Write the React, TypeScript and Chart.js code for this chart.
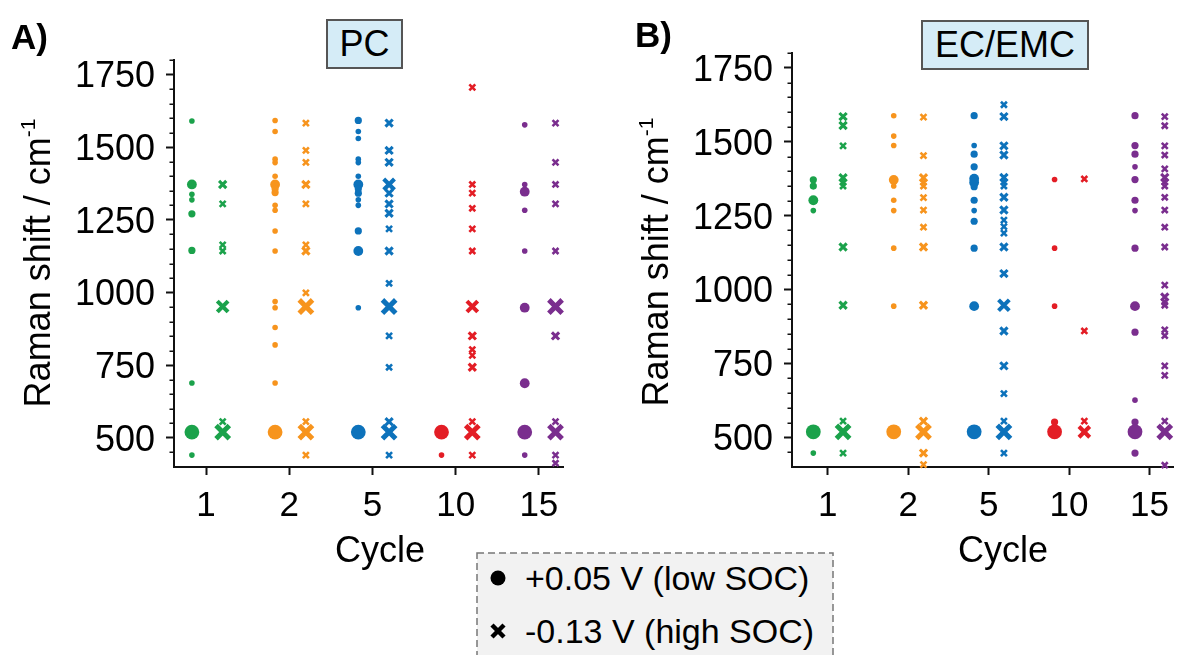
import { useEffect, useRef } from 'react';
import { Chart, registerables } from 'chart.js';

Chart.register(...registerables);

const FONT = '"Liberation Sans", Arial, Helvetica, sans-serif';

// Cycle categories and their colours
const cycles = ['1', '2', '5', '10', '15'];
const cycleColors = ['#1ba24b', '#f7941d', '#0d72bb', '#e31d25', '#7a2e8e'];

// Major y ticks (Raman shift, cm-1)
const shiftTicks = [500, 750, 1000, 1250, 1500, 1750];

// Peaks per cycle: [Raman shift (cm-1), relative intensity 1..4]
// PC electrolyte, +0.05 V (low SOC)
const pcLow: [number, number][][] = [
  [[1590, 1], [1372, 3], [1338, 1], [1319, 1], [1271, 2], [1145, 2], [689, 1], [520, 4], [441, 1]],
  [[1592, 1], [1554, 1], [1459, 1], [1447, 1], [1400, 1], [1372, 3], [1357, 2], [1344, 2], [1300, 1], [1283, 1], [1212, 1], [1143, 1], [969, 1], [948, 1], [880, 1], [820, 1], [689, 1], [520, 4]],
  [[1592, 2], [1554, 1], [1530, 1], [1459, 1], [1447, 1], [1400, 1], [1372, 3], [1357, 2], [1342, 2], [1319, 1], [1300, 1], [1212, 2], [1143, 3], [948, 1], [520, 4]],
  [[520, 4], [441, 1]],
  [[1577, 1], [1372, 1], [1347, 3], [1283, 1], [1143, 1], [948, 3], [688, 3], [520, 4], [441, 1]],
];

// PC electrolyte, -0.13 V (high SOC)
const pcHigh: [number, number][][] = [
  [[1372, 2], [1305, 1], [1164, 1], [1143, 1], [952, 3], [556, 1], [520, 4]],
  [[1583, 1], [1489, 1], [1448, 1], [1372, 2], [1305, 1], [1164, 1], [1143, 2], [999, 1], [952, 4], [556, 1], [520, 4], [441, 1]],
  [[1583, 2], [1489, 2], [1448, 2], [1372, 3], [1342, 2], [1305, 2], [1273, 2], [1219, 1], [1143, 2], [1032, 1], [952, 4], [851, 1], [743, 1], [556, 2], [520, 4], [441, 1]],
  [[1706, 1], [1372, 1], [1342, 1], [1290, 1], [1219, 1], [1143, 1], [952, 3], [851, 2], [804, 1], [784, 1], [743, 2], [556, 1], [520, 4], [441, 1]],
  [[1583, 1], [1448, 1], [1372, 1], [1305, 1], [1143, 1], [952, 4], [851, 2], [556, 1], [520, 4], [441, 1], [413, 1]],
];

// EC/EMC electrolyte, +0.05 V (low SOC)
const ecLow: [number, number][][] = [
  [[1371, 2], [1350, 2], [1302, 3], [1267, 1], [519, 4], [447, 1]],
  [[1588, 1], [1519, 1], [1487, 1], [1371, 3], [1350, 1], [1302, 1], [1267, 1], [1140, 1], [944, 1], [519, 4]],
  [[1588, 2], [1487, 1], [1458, 2], [1415, 2], [1375, 3], [1362, 3], [1348, 2], [1302, 2], [1267, 1], [1231, 2], [1140, 2], [944, 3], [519, 4]],
  [[1372, 1], [1140, 1], [944, 1], [552, 2], [519, 4]],
  [[1588, 2], [1487, 2], [1458, 2], [1415, 1], [1372, 2], [1302, 2], [1267, 1], [1140, 2], [944, 3], [856, 2], [626, 1], [552, 2], [519, 4], [447, 2]],
];

// EC/EMC electrolyte, -0.13 V (high SOC)
const ecHigh: [number, number][][] = [
  [[1585, 2], [1555, 2], [1486, 1], [1378, 2], [1363, 1], [1350, 1], [1144, 2], [947, 2], [555, 1], [519, 4], [447, 1]],
  [[1583, 1], [1453, 1], [1378, 2], [1363, 1], [1350, 1], [1311, 1], [1269, 1], [1211, 1], [1144, 2], [947, 2], [555, 2], [519, 4], [447, 2], [408, 1]],
  [[1625, 1], [1585, 2], [1486, 2], [1455, 2], [1379, 2], [1364, 1], [1350, 1], [1312, 2], [1269, 2], [1235, 1], [1213, 1], [1191, 1], [1144, 2], [1054, 2], [947, 3], [860, 2], [742, 2], [648, 1], [555, 1], [519, 4], [447, 1]],
  [[1374, 1], [860, 1], [555, 1], [519, 3]],
  [[1585, 1], [1554, 1], [1486, 1], [1455, 1], [1408, 1], [1379, 2], [1364, 1], [1350, 1], [1312, 1], [1269, 1], [1211, 1], [1144, 1], [1015, 1], [975, 2], [958, 1], [947, 1], [864, 1], [844, 1], [742, 1], [710, 1], [555, 1], [519, 4], [406, 1]],
];

// Marker geometry per intensity level (index 1..4)
const circleRadius = [0, 2.8, 3.6, 4.9, 7.4];
const crossRadius = [0, 4.2, 5.1, 7.6, 9.4];
const crossWidth = [0, 2.6, 3.1, 4.1, 5];

const AXIS = '#111';

// Short unlabeled ticks every 50 cm-1 on the shift axis
const minorTicks = {
  id: 'minorTicks',
  afterDraw(chart: any) {
    const y = chart.scales.y;
    const ctx = chart.ctx;
    ctx.save();
    ctx.strokeStyle = AXIS;
    ctx.lineWidth = 1.5;
    for (let v = y.min + 50; v <= y.max; v += 50) {
      if (v % 250 === 0) continue;
      const py = Math.round(y.getPixelForValue(v)) + 0.25;
      ctx.beginPath();
      ctx.moveTo(y.right - 4.5, py);
      ctx.lineTo(y.right, py);
      ctx.stroke();
    }
    ctx.restore();
  },
};

type Panel = {
  low: [number, number][][];
  high: [number, number][][];
  xMin: number;
  xMax: number;
  dxLow: number;
  dxHigh: number;
  axisWidth: number;
  top: number;
  right: number;
};

function makeConfig(p: Panel): any {
  const datasets: any[] = [];
  cycles.forEach((c, i) => {
    datasets.push({
      label: `${c} low`,
      data: p.low[i].map(([s, lv]) => ({ x: i + 1 + p.dxLow, y: s, lv })),
      pointStyle: 'circle',
      pointBackgroundColor: cycleColors[i],
      pointBorderWidth: 0,
      pointBorderColor: cycleColors[i],
      pointRadius: (ctx: any) => circleRadius[ctx.raw?.lv ?? 1],
      clip: false,
    });
    datasets.push({
      label: `${c} high`,
      data: p.high[i].map(([s, lv]) => ({ x: i + 1 + p.dxHigh, y: s, lv })),
      pointStyle: 'crossRot',
      pointBackgroundColor: cycleColors[i],
      pointBorderColor: cycleColors[i],
      pointBorderWidth: (ctx: any) => crossWidth[ctx.raw?.lv ?? 1],
      pointRadius: (ctx: any) => crossRadius[ctx.raw?.lv ?? 1],
      clip: false,
    });
  });

  const grid = {
    drawOnChartArea: false,
    drawTicks: true,
    tickLength: 8,
    tickWidth: 2,
    tickColor: AXIS,
  };
  const border = { display: true, color: AXIS, width: 2 };

  return {
    type: 'scatter',
    data: { datasets },
    options: {
      responsive: false,
      animation: false,
      devicePixelRatio: 1,
      events: [],
      layout: { padding: { top: p.top, right: p.right, bottom: 108, left: 0 } },
      plugins: { legend: { display: false }, tooltip: { enabled: false } },
      scales: {
        x: {
          type: 'linear',
          min: p.xMin,
          max: p.xMax,
          afterBuildTicks: (s: any) => {
            s.ticks = cycles.map((_, i) => ({ value: i + 1 }));
          },
          afterFit: (s: any) => {
            s.height = 80;
          },
          ticks: {
            callback: (v: number) => cycles[Math.round(v) - 1] ?? '',
            font: { family: FONT, size: 35 },
            color: '#000',
            padding: 10,
            maxRotation: 0,
            autoSkip: false,
          },
          grid,
          border,
        },
        y: {
          min: 400,
          max: 1800,
          afterBuildTicks: (s: any) => {
            s.ticks = shiftTicks.map((v) => ({ value: v }));
          },
          afterFit: (s: any) => {
            s.width = p.axisWidth;
          },
          ticks: {
            callback: (v: number) => String(v),
            font: { family: FONT, size: 36 },
            color: '#000',
            padding: 11,
            labelOffset: 3,
          },
          grid,
          border,
        },
      },
    },
    plugins: [minorTicks],
  };
}

const abs = (left: number, top: number, extra: any = {}) => ({
  position: 'absolute' as const,
  left,
  top,
  lineHeight: 1,
  whiteSpace: 'nowrap' as const,
  ...extra,
});

function YTitle({ cx, cy }: { cx: number; cy: number }) {
  return (
    <div
      style={{
        position: 'absolute',
        left: cx,
        top: cy,
        fontSize: 36,
        lineHeight: '36px',
        whiteSpace: 'nowrap',
        transform: 'translate(-50%, -50%) rotate(-90deg)',
      }}
    >
      Raman shift / cm
      <span style={{ fontSize: 21, position: 'relative', top: -15 }}>-1</span>
    </div>
  );
}

function TitleBox({ left, top, width, text }: { left: number; top: number; width: number; text: string }) {
  return (
    <div
      style={{
        position: 'absolute',
        left,
        top,
        width,
        height: 50,
        boxSizing: 'border-box',
        border: '2px solid #555',
        background: '#d5ecf7',
        display: 'flex',
        alignItems: 'center',
        justifyContent: 'center',
        fontSize: 36,
        lineHeight: 1,
      }}
    >
      {text}
    </div>
  );
}

export default function App() {
  const refA = useRef<HTMLCanvasElement>(null);
  const refB = useRef<HTMLCanvasElement>(null);

  useEffect(() => {
    document.body.style.margin = '0';
    const a = new Chart(
      refA.current!,
      makeConfig({
        low: pcLow,
        high: pcHigh,
        xMin: 0.615,
        xMax: 5.29,
        dxLow: -0.17,
        dxHigh: 0.2,
        axisWidth: 174,
        top: 60,
        right: 31,
      })
    );
    const b = new Chart(
      refB.current!,
      makeConfig({
        low: ecLow,
        high: ecHigh,
        xMin: 0.555,
        xMax: 5.3,
        dxLow: -0.18,
        dxHigh: 0.19,
        axisWidth: 198,
        top: 53,
        right: 0,
      })
    );
    return () => {
      a.destroy();
      b.destroy();
    };
  }, []);

  return (
    <div
      style={{
        position: 'fixed',
        left: 0,
        top: 0,
        width: 1188,
        height: 655,
        overflow: 'hidden',
        background: '#fff',
        fontFamily: FONT,
        color: '#000',
      }}
    >
      <canvas ref={refA} width={594} height={655} style={{ position: 'absolute', left: 0, top: 0 }} />
      <canvas ref={refB} width={594} height={655} style={{ position: 'absolute', left: 594, top: 0 }} />

      <div style={abs(11, 19, { fontSize: 35, fontWeight: 'bold' })}>A)</div>
      <div style={abs(635, 17, { fontSize: 35, fontWeight: 'bold' })}>B)</div>

      <TitleBox left={326} top={19} width={77} text="PC" />
      <TitleBox left={921} top={20} width={168} text="EC/EMC" />

      <YTitle cx={40} cy={263} />
      <YTitle cx={658} cy={262} />

      <div style={abs(380, 532, { fontSize: 36, transform: 'translateX(-50%)' })}>Cycle</div>
      <div style={abs(1003, 532, { fontSize: 36, transform: 'translateX(-50%)' })}>Cycle</div>

      {/* Marker legend */}
      <svg width={358} height={110} style={{ position: 'absolute', left: 476, top: 552 }}>
        <rect x={1} y={1} width={356} height={120} fill="#f2f2f2" stroke="#777" strokeWidth={1.5} strokeDasharray="7 4" />
        <circle cx={22} cy={26} r={7.5} fill="#000" />
        <g stroke="#000" strokeWidth={4.5}>
          <line x1={16} y1={73} x2={28} y2={85} />
          <line x1={28} y1={73} x2={16} y2={85} />
        </g>
      </svg>
      <div style={abs(525, 561, { fontSize: 34 })}>+0.05 V (low SOC)</div>
      <div style={abs(525, 614, { fontSize: 34 })}>-0.13 V (high SOC)</div>
    </div>
  );
}
